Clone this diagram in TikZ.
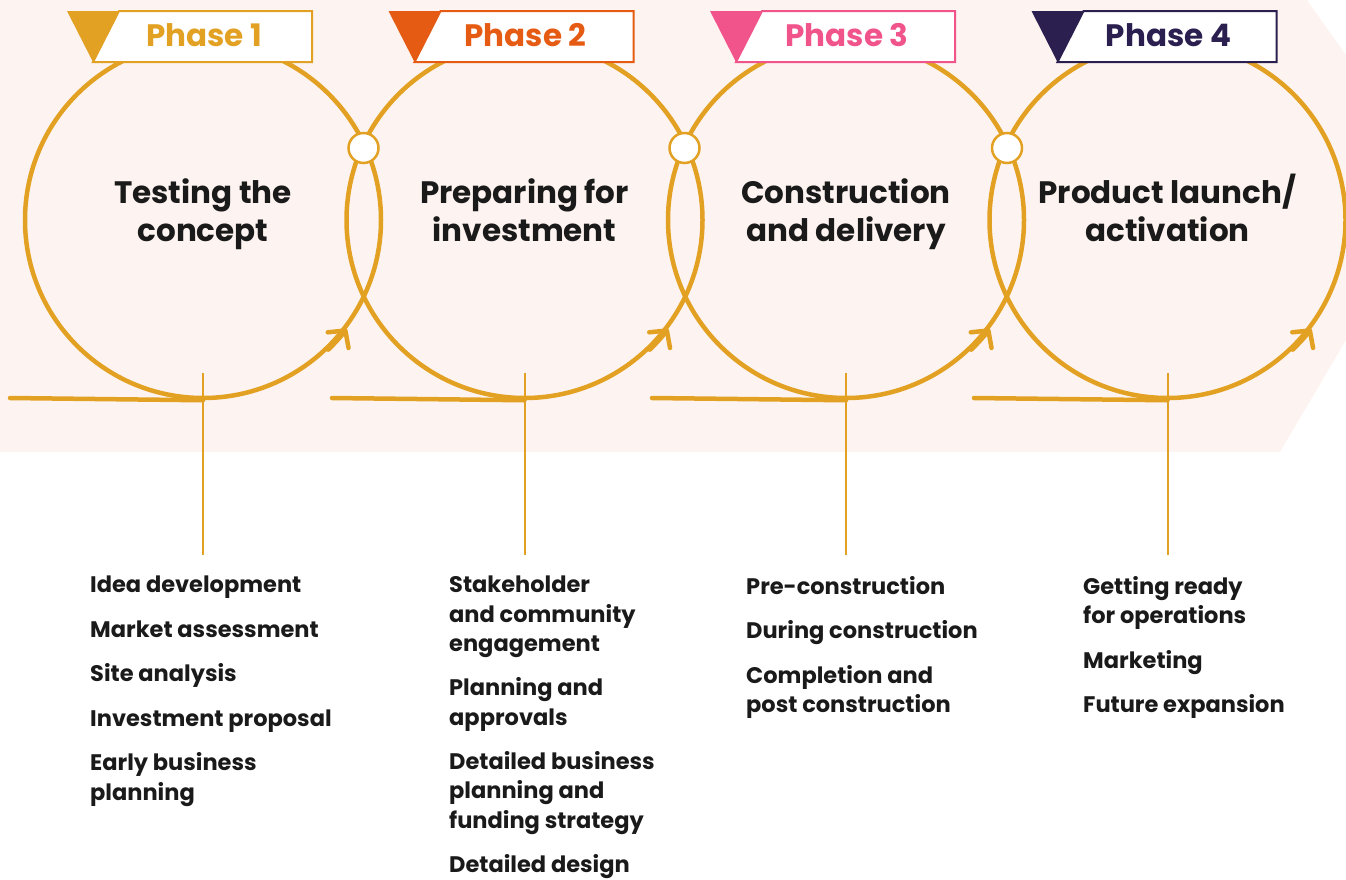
\documentclass[tikz,border=0pt]{standalone}
\usepackage{fontspec}
\setmainfont{Poppins}
\usetikzlibrary{arrows.meta}
\definecolor{gold}{HTML}{E3A124}
\definecolor{phaseone}{HTML}{E3A124}
\definecolor{phasetwo}{HTML}{E55B13}
\definecolor{phasethree}{HTML}{F0548B}
\definecolor{phasefour}{HTML}{2B1F50}
\definecolor{blush}{HTML}{FDF4F1}
\definecolor{ink}{HTML}{1A1A1A}
\tikzset{
  loop/.style={circle,draw=gold,line width=4.5pt,minimum size=356pt,inner sep=0pt},
  track/.style={draw=gold,line width=4.5pt,line cap=round},
  turn/.style={track,-{Straight Barb[length=12pt,width=26pt,round]}},
  stem/.style={draw=gold,line width=2pt},
  joint/.style={circle,draw=gold,fill=white,line width=2.5pt,minimum size=30pt,inner sep=0pt},
  title/.style={font=\fontsize{31}{38}\selectfont\bfseries,align=center,text=ink},
  tabtext/.style={font=\fontsize{31}{32}\selectfont\bfseries},
  steps/.style={anchor=north west,align=left,inner sep=0pt,text=ink,
    font=\fontsize{22.5}{29.5}\selectfont\bfseries}
}
\begin{document}
\begin{tikzpicture}[x=1pt,y=-1pt]
  \useasboundingbox (0,0) rectangle (1346,879);
  \fill[blush] (0,0) -- (1307,0) -- (1346,55) -- (1346,340) -- (1280,452) -- (0,452) -- cycle;

  \node[loop] (c1) at (203,220) {};
  \node[loop] (c2) at (524.5,220) {};
  \node[loop] (c3) at (846,220) {};
  \node[loop] (c4) at (1167.5,220) {};

  \coordinate (s1) at (10,398);
  \coordinate (s2) at (332,398);
  \coordinate (s3) at (652,398);
  \coordinate (s4) at (974,398);
  \draw[track] (s1) -- (c1.south);
  \draw[track] (s2) -- (c2.south);
  \draw[track] (s3) -- (c3.south);
  \draw[track] (s4) -- (c4.south);

  \draw[turn] (c1.-46) arc[start angle=46,end angle=37,radius=178];
  \draw[turn] (c2.-46) arc[start angle=46,end angle=37,radius=178];
  \draw[turn] (c3.-46) arc[start angle=46,end angle=37,radius=178];
  \draw[turn] (c4.-46) arc[start angle=46,end angle=37,radius=178];

  \node[joint] (j1) at (363.5,148) {};
  \node[joint] (j2) at (684.5,148) {};
  \node[joint] (j3) at (1007,148) {};

  \node[title] (n1) at (c1.center) [yshift=6pt] {Testing the\\concept};
  \node[title] (n2) at (c2.center) [yshift=10pt] {Preparing for\\investment};
  \node[title] (n3) at (c3.center) [yshift=6pt] {Construction\\and delivery};
  \node[title] (n4) at (c4.center) [yshift=12pt] {Product launch/\\activation};

  \coordinate (t1) at (203,373);   \coordinate (b1) at (203,555);
  \coordinate (t2) at (524.5,373); \coordinate (b2) at (524.5,555);
  \coordinate (t3) at (846,373);   \coordinate (b3) at (846,555);
  \coordinate (t4) at (1167.5,373);\coordinate (b4) at (1167.5,555);
  \draw[stem] (t1) -- (b1);
  \draw[stem] (t2) -- (b2);
  \draw[stem] (t3) -- (b3);
  \draw[stem] (t4) -- (b4);

  % phase tabs
  \draw[phaseone,line width=2pt,fill=white] (119,11) -- (312,11) -- (312,62) -- (93,62) -- cycle;
  \fill[phaseone] (67,11) -- (119,11) -- (93,62) -- cycle;
  \node[tabtext,text=phaseone] (p1) at (204,35) {Phase 1};
  \draw[phasetwo,line width=2pt,fill=white] (440.5,11) -- (633.5,11) -- (633.5,62) -- (414.5,62) -- cycle;
  \fill[phasetwo] (388.5,11) -- (440.5,11) -- (414.5,62) -- cycle;
  \node[tabtext,text=phasetwo] (p2) at (525.5,35) {Phase 2};
  \draw[phasethree,line width=2pt,fill=white] (762,11) -- (955,11) -- (955,62) -- (736,62) -- cycle;
  \fill[phasethree] (710,11) -- (762,11) -- (736,62) -- cycle;
  \node[tabtext,text=phasethree] (p3) at (847,35) {Phase 3};
  \draw[phasefour,line width=2pt,fill=white] (1083.5,11) -- (1276.5,11) -- (1276.5,62) -- (1057.5,62) -- cycle;
  \fill[phasefour] (1031.5,11) -- (1083.5,11) -- (1057.5,62) -- cycle;
  \node[tabtext,text=phasefour] (p4) at (1168.5,35) {Phase 4};

  \node[steps] (l1) at (90,576) {Idea development\\[15pt]Market assessment\\[15pt]Site analysis\\[15pt]Investment proposal\\[15pt]Early business\\planning};
  \node[steps] (l2) at (449,576) {Stakeholder\\and community\\engagement\\[14.5pt]Planning and\\approvals\\[14.5pt]Detailed business\\planning and\\funding strategy\\[14.5pt]Detailed design};
  \node[steps] (l3) at (746,576) {Pre-construction\\[15pt]During construction\\[15pt]Completion and\\post construction};
  \node[steps] (l4) at (1083,576) {Getting ready\\for operations\\[15pt]Marketing\\[15pt]Future expansion};
\end{tikzpicture}
\end{document}
